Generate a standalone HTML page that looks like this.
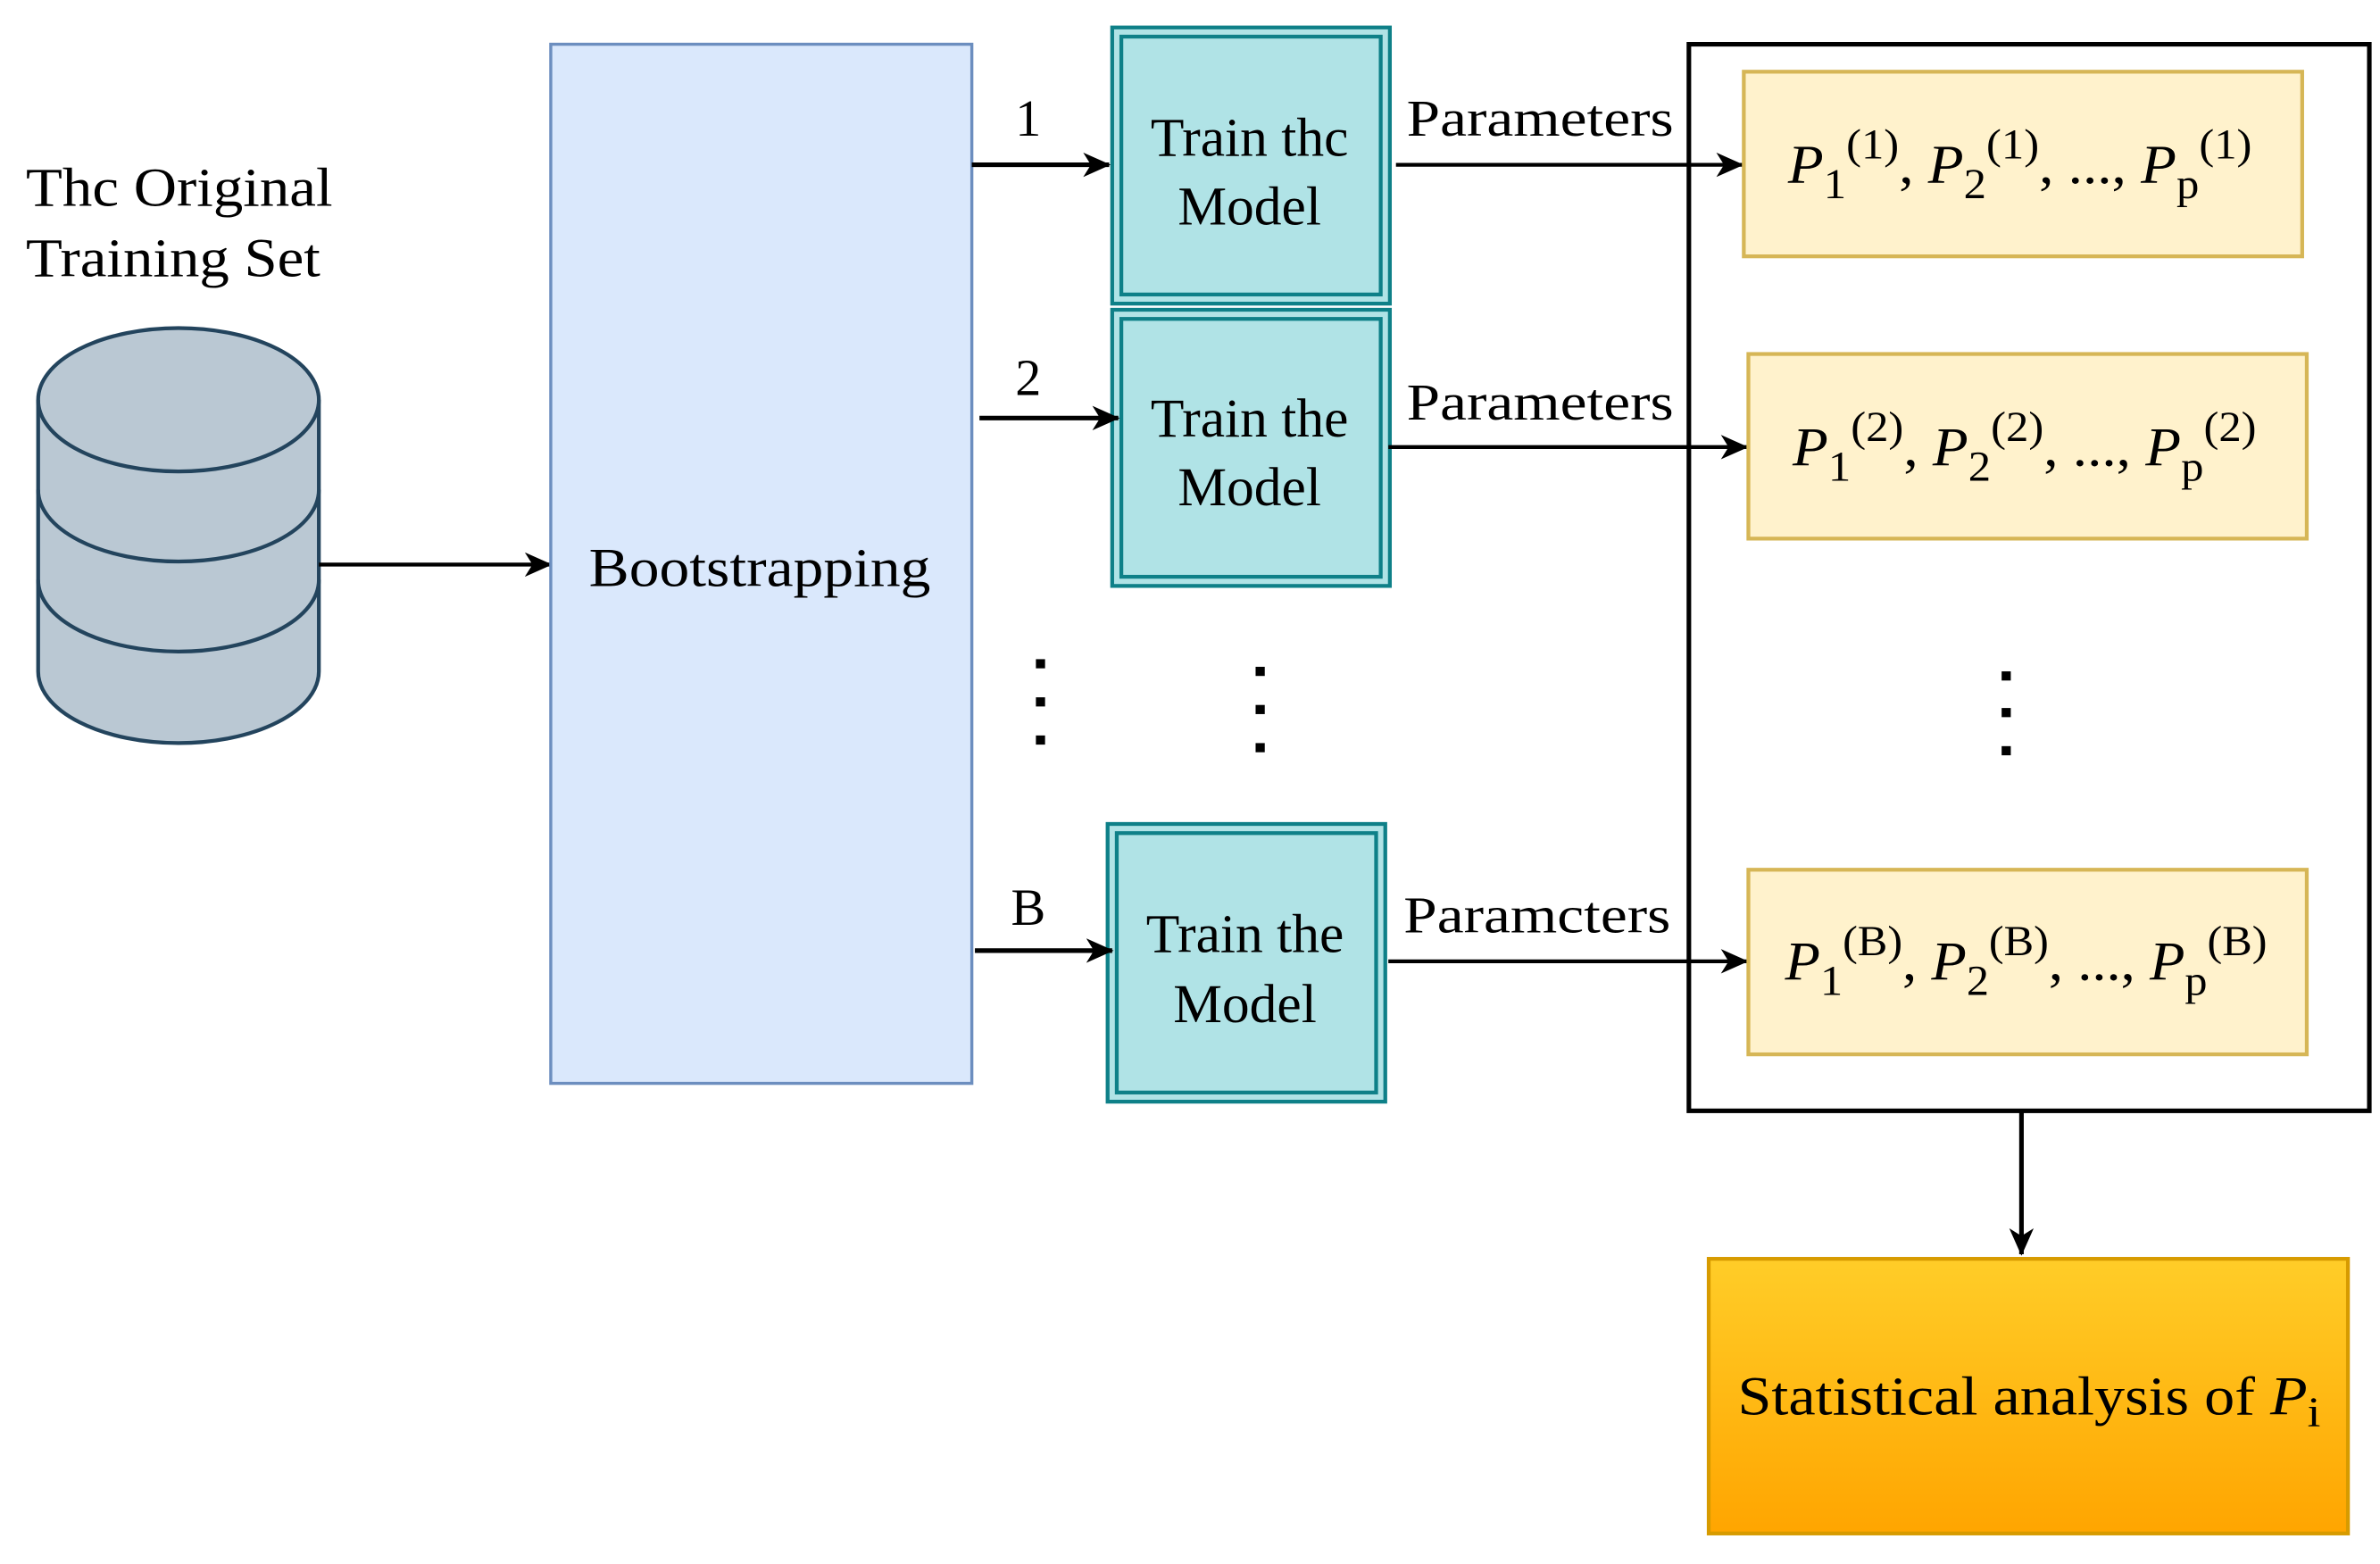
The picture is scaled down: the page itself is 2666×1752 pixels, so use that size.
<!DOCTYPE html>
<html><head><meta charset="utf-8"><style>
html,body{margin:0;padding:0;background:#fff;}
svg{display:block;}
text{font-family:"Liberation Serif",serif;fill:#000;}
</style></head><body>
<svg width="2666" height="1752" viewBox="0 0 1560 1025" preserveAspectRatio="none" xmlns="http://www.w3.org/2000/svg">
<defs>
<marker id="ah" markerWidth="18" markerHeight="16" refX="17" refY="8" orient="auto" markerUnits="userSpaceOnUse">
<path d="M0,0 L18,8 L0,16 L5,8 Z" fill="#000"/>
</marker>
<linearGradient id="og" x1="0" y1="0" x2="0" y2="1"><stop offset="0" stop-color="#ffcd28"/><stop offset="1" stop-color="#ffa500"/></linearGradient>
</defs>

<text x="17" y="135" font-size="36" textLength="201" lengthAdjust="spacingAndGlyphs">Thc Original</text>
<text x="17" y="181" font-size="36" textLength="193" lengthAdjust="spacingAndGlyphs">Training Set</text>

<path d="M25,262 L25,440 A92,47 0 0 0 209,440 L209,262 A92,47 0 0 0 25,262 Z" fill="#bac8d3" stroke="#23445d" stroke-width="2.5"/>
<path d="M25,262 A92,47 0 0 0 209,262" fill="none" stroke="#23445d" stroke-width="2.5"/>
<path d="M25,321 A92,47 0 0 0 209,321" fill="none" stroke="#23445d" stroke-width="2.5"/>
<path d="M25,380 A92,47 0 0 0 209,380" fill="none" stroke="#23445d" stroke-width="2.5"/>

<line x1="209" y1="370" x2="361" y2="370" stroke="#000" stroke-width="2.5" marker-end="url(#ah)"/>

<rect x="361" y="29" width="276" height="681" fill="#dae8fc" stroke="#6c8ebf" stroke-width="2"/>
<text x="498" y="384" font-size="36" text-anchor="middle" textLength="224" lengthAdjust="spacingAndGlyphs">Bootstrapping</text>

<g fill="#b0e3e6" stroke="#0e8088" stroke-width="2.5">
<rect x="729" y="18" width="182" height="181"/>
<rect x="729" y="203" width="182" height="181"/>
<rect x="726" y="540" width="182" height="182"/>
</g>
<g fill="none" stroke="#0e8088" stroke-width="2.5">
<rect x="735" y="24" width="170" height="169"/>
<rect x="735" y="209" width="170" height="169"/>
<rect x="732" y="546" width="170" height="170"/>
</g>
<g font-size="36" text-anchor="middle">
<text x="819" y="102">Train thc</text><text x="819" y="147">Model</text>
<text x="819" y="286">Train the</text><text x="819" y="331">Model</text>
<text x="816" y="624">Train the</text><text x="816" y="670">Model</text>
</g>

<g font-size="34" text-anchor="middle">
<text x="674" y="89">1</text>
<text x="674" y="259">2</text>
<text x="674" y="606">B</text>
</g>
<g stroke="#000" stroke-width="3">
<line x1="637" y1="108" x2="727" y2="108" marker-end="url(#ah)"/>
<line x1="642" y1="274" x2="733" y2="274" marker-end="url(#ah)"/>
<line x1="639" y1="623" x2="729" y2="623" marker-end="url(#ah)"/>
</g>

<g fill="#000">
<rect x="679" y="432" width="6" height="6"/><rect x="679" y="457" width="6" height="6"/><rect x="679" y="482" width="6" height="6"/>
<rect x="823" y="437" width="6" height="6"/><rect x="823" y="462" width="6" height="6"/><rect x="823" y="487" width="6" height="6"/>
<rect x="1312" y="440" width="6" height="6"/><rect x="1312" y="464" width="6" height="6"/><rect x="1312" y="489" width="6" height="6"/>
</g>

<rect x="1107" y="29" width="446" height="699" fill="none" stroke="#000" stroke-width="3"/>

<g font-size="34">
<text x="922" y="89" textLength="175" lengthAdjust="spacingAndGlyphs">Parameters</text>
<text x="922" y="275" textLength="175" lengthAdjust="spacingAndGlyphs">Parameters</text>
<text x="920" y="611" textLength="175" lengthAdjust="spacingAndGlyphs">Paramcters</text>
</g>
<g stroke="#000" stroke-width="2.5">
<line x1="915" y1="108" x2="1142" y2="108" marker-end="url(#ah)"/>
<line x1="910" y1="293" x2="1145" y2="293" marker-end="url(#ah)"/>
<line x1="910" y1="630" x2="1145" y2="630" marker-end="url(#ah)"/>
</g>

<g fill="#fff2cc" stroke="#d6b656" stroke-width="2.5">
<rect x="1143" y="47" width="366" height="121"/>
<rect x="1146" y="232" width="366" height="121"/>
<rect x="1146" y="570" width="366" height="121"/>
</g>
<g font-size="36">
<text x="1172" y="120" textLength="304" lengthAdjust="spacingAndGlyphs"><tspan font-style="italic">P</tspan><tspan font-size="28" dy="10">1</tspan><tspan font-size="28" dy="-26">(1)</tspan><tspan dy="16">, </tspan><tspan font-style="italic">P</tspan><tspan font-size="28" dy="10">2</tspan><tspan font-size="28" dy="-26">(1)</tspan><tspan dy="16">, ..., </tspan><tspan font-style="italic">P</tspan><tspan font-size="28" dy="10">p</tspan><tspan font-size="28" dy="-26">(1)</tspan></text>
<text x="1175" y="305" textLength="304" lengthAdjust="spacingAndGlyphs"><tspan font-style="italic">P</tspan><tspan font-size="28" dy="10">1</tspan><tspan font-size="28" dy="-26">(2)</tspan><tspan dy="16">, </tspan><tspan font-style="italic">P</tspan><tspan font-size="28" dy="10">2</tspan><tspan font-size="28" dy="-26">(2)</tspan><tspan dy="16">, ..., </tspan><tspan font-style="italic">P</tspan><tspan font-size="28" dy="10">p</tspan><tspan font-size="28" dy="-26">(2)</tspan></text>
<text x="1170" y="642" textLength="316" lengthAdjust="spacingAndGlyphs"><tspan font-style="italic">P</tspan><tspan font-size="28" dy="10">1</tspan><tspan font-size="28" dy="-26">(B)</tspan><tspan dy="16">, </tspan><tspan font-style="italic">P</tspan><tspan font-size="28" dy="10">2</tspan><tspan font-size="28" dy="-26">(B)</tspan><tspan dy="16">, ..., </tspan><tspan font-style="italic">P</tspan><tspan font-size="28" dy="10">p</tspan><tspan font-size="28" dy="-26">(B)</tspan></text>
</g>

<line x1="1325" y1="728" x2="1325" y2="822" stroke="#000" stroke-width="3" marker-end="url(#ah)"/>

<rect x="1120" y="825" width="419" height="180" fill="url(#og)" stroke="#d79b00" stroke-width="2.5"/>
<text x="1139" y="927" font-size="36" textLength="382" lengthAdjust="spacingAndGlyphs">Statistical analysis of <tspan font-style="italic">P</tspan><tspan font-size="28" dy="8">i</tspan></text>
</svg>
</body></html>
